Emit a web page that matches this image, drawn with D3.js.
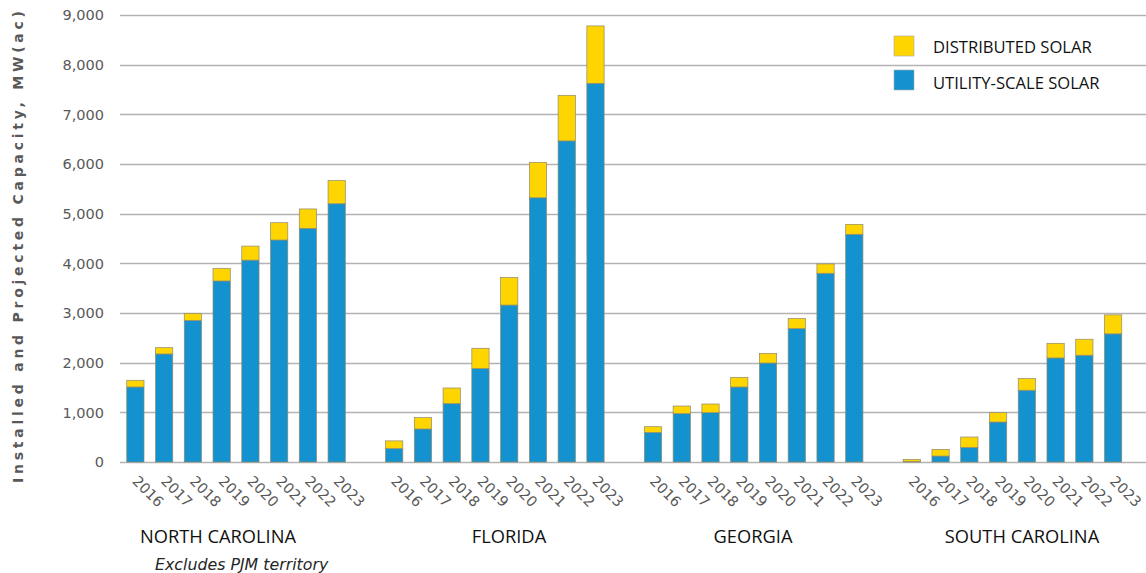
<!DOCTYPE html>
<html>
<head>
<meta charset="utf-8">
<script src="https://cdn.jsdelivr.net/npm/d3@7"></script>
<style>
  body { margin: 0; background: #fff; }
  svg { display: block; }
</style>
</head>
<body>
<div class="chart"></div>
<script>
// states shown as groups along the x axis
const states = ["NORTH CAROLINA", "FLORIDA", "GEORGIA", "SOUTH CAROLINA"];
const years = ["2016", "2017", "2018", "2019", "2020", "2021", "2022", "2023"];

// utility-scale solar, MW(ac), one list per state
const utilityNC = [1510, 2175, 2850, 3645, 4065, 4470, 4705, 5200];
const utilityFL = [270, 665, 1175, 1880, 3160, 5320, 6465, 7625];
const utilityGA = [597, 973, 993, 1510, 1993, 2685, 3800, 4585];
const utilitySC = [10, 120, 295, 805, 1445, 2095, 2150, 2580];

// distributed solar on top of it
const distNC = [135, 127, 143, 255, 282, 348, 390, 465];
const distFL = [155, 228, 315, 410, 558, 712, 918, 1155];
const distGA = [114, 154, 175, 195, 195, 202, 188, 200];
const distSC = [42, 134, 208, 188, 235, 295, 322, 382];

const yTicks = [0, 1000, 2000, 3000, 4000, 5000, 6000, 7000, 8000, 9000];
const seriesNames = ["DISTRIBUTED SOLAR", "UTILITY-SCALE SOLAR"];

const utility = [utilityNC, utilityFL, utilityGA, utilitySC];
const distributed = [distNC, distFL, distGA, distSC];

let width = 1146;
let height = 573;

let svg = d3.select(".chart").append("svg")
  .attr("width", width)
  .attr("height", height);

// build rows, with an empty slot between state groups
let rows = [];
let slots = [];
states.forEach(function (s, si) {
  years.forEach(function (yr, yi) {
    let key = s + "|" + yr;
    slots.push(key);
    rows.push({key: key, state: s, year: yr, utility: utility[si][yi], distributed: distributed[si][yi]});
  });
  if (si < states.length - 1) slots.push("gap" + si);
});

var x = d3.scaleBand()
  .domain(slots)
  .range([121, 1127.5])
  .paddingInner(0.4)
  .paddingOuter(0.2);

var y = d3.scaleLinear()
  .domain([0, 9000])
  .range([462, 15]);

var blue = "#1392cf";
var yellow = "#ffd500";
var grey = "#595959";

//gridlines
svg.append("g")
  .selectAll("line")
  .data(yTicks)
  .enter()
  .append("line")
  .attr("x1", 120)
  .attr("x2", width)
  .attr("y1", d => Math.round(y(d)) + 0.5)
  .attr("y2", d => Math.round(y(d)) + 0.5)
  .attr("stroke", "#b3b3b3")
  .attr("stroke-width", 1.3);

//y axis labels
svg.append("g")
  .selectAll("text")
  .data(yTicks)
  .enter()
  .append("text")
  .attr("x", 104)
  .attr("y", d => y(d))
  .attr("dy", "0.36em")
  .attr("text-anchor", "end")
  .attr("font-family", "DejaVu Sans, sans-serif")
  .attr("font-size", 14.5)
  .attr("fill", grey)
  .text(d3.format(","));

//y axis title
svg.append("text")
  .attr("transform", "translate(23,247) rotate(-90)")
  .attr("text-anchor", "middle")
  .attr("font-family", "DejaVu Sans, sans-serif")
  .attr("font-weight", "bold")
  .attr("font-size", 14)
  .attr("fill", grey)
  .attr("textLength", 472)
  .attr("lengthAdjust", "spacing")
  .text("Installed and Projected Capacity, MW(ac)");

//stacked bars
var stack = d3.stack().keys(["utility", "distributed"]);
var layers = stack(rows);
var colors = {utility: blue, distributed: yellow};

svg.append("g")
  .selectAll("g")
  .data(layers)
  .enter()
  .append("g")
  .attr("fill", d => colors[d.key])
  .selectAll("rect")
  .data(d => d)
  .enter()
  .append("rect")
  .attr("x", d => x(d.data.key))
  .attr("width", x.bandwidth())
  .attr("y", d => y(d[1]))
  .attr("height", d => y(d[0]) - y(d[1]))
  .attr("stroke", "#8c8a70")
  .attr("stroke-width", 0.7);

//year labels, tilted
svg.append("g")
  .selectAll("text")
  .data(rows)
  .enter()
  .append("text")
  .attr("transform", d => "translate(" + (x(d.key) + x.bandwidth() / 2 - 4) + ",482) rotate(45)")
  .attr("font-family", "DejaVu Sans, sans-serif")
  .attr("font-size", 14.5)
  .attr("fill", grey)
  .text(d => d.year);

//state names
var stateX = [218, 509, 753, 1022];
svg.append("g")
  .selectAll("text")
  .data(states)
  .enter()
  .append("text")
  .attr("x", (d, i) => stateX[i])
  .attr("y", 543)
  .attr("text-anchor", "middle")
  .attr("font-family", "Open Sans, sans-serif")
  .attr("font-size", 18.3)
  .attr("fill", "#111")
  .text(d => d);

svg.append("text")
  .attr("x", 155)
  .attr("y", 570)
  .attr("font-family", "DejaVu Sans, sans-serif")
  .attr("font-style", "italic")
  .attr("font-size", 15.8)
  .attr("fill", "#262626")
  .text("Excludes PJM territory");

//Legend
var legend = svg.append("g");
var legendColors = [yellow, blue];
legend.selectAll("rect")
  .data(seriesNames)
  .enter()
  .append("rect")
  .attr("x", 894)
  .attr("y", (d, i) => 36 + i * 34)
  .attr("width", 20)
  .attr("height", 20)
  .attr("fill", (d, i) => legendColors[i])
  .attr("stroke", "#aaa")
  .attr("stroke-width", 0.6);
legend.selectAll("text")
  .data(seriesNames)
  .enter()
  .append("text")
  .attr("x", 933)
  .attr("y", (d, i) => 53 + i * 36)
  .attr("font-family", "Open Sans, sans-serif")
  .attr("font-size", 16.6)
  .attr("fill", "#111")
  .text(d => d);
</script>
</body>
</html>
